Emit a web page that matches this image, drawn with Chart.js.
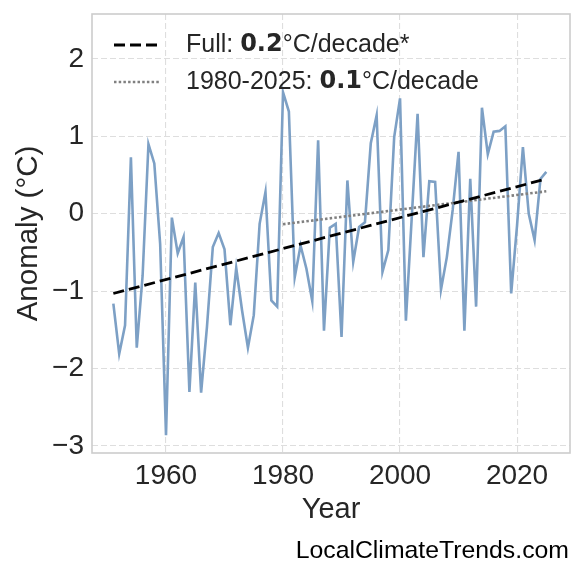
<!DOCTYPE html>
<html>
<head>
<meta charset="utf-8">
<script src="https://cdn.jsdelivr.net/npm/chart.js"></script>
<style>
    html, body { margin: 0; padding: 0; background: #fff; }
    #wrap { width: 585px; height: 580px; }
</style>
</head>
<body>
<div id="wrap"><canvas id="chart" width="585" height="580"></canvas></div>
<script>
// annual anomaly
const years = [
    1951, 1952, 1953, 1954, 1955, 1956, 1957, 1958, 1959, 1960,
    1961, 1962, 1963, 1964, 1965, 1966, 1967, 1968, 1969, 1970,
    1971, 1972, 1973, 1974, 1975, 1976, 1977, 1978, 1979, 1980,
    1981, 1982, 1983, 1984, 1985, 1986, 1987, 1988, 1989, 1990,
    1991, 1992, 1993, 1994, 1995, 1996, 1997, 1998, 1999, 2000,
    2001, 2002, 2003, 2004, 2005, 2006, 2007, 2008, 2009, 2010,
    2011, 2012, 2013, 2014, 2015, 2016, 2017, 2018, 2019, 2020,
    2021, 2022, 2023, 2024, 2025
];
const anomaly = [
    -1.16, -1.81, -1.44, 0.73, -1.73, -0.80, 0.90, 0.65, -0.39, -2.86,
    -0.05, -0.51, -0.30, -2.30, -0.89, -2.31, -1.46, -0.43, -0.25, -0.46,
    -1.44, -0.70, -1.25, -1.73, -1.31, -0.13, 0.28, -1.12, -1.20, 1.57,
    1.32, -0.82, -0.41, -0.71, -1.13, 0.95, -1.51, -0.18, -0.13, -1.59,
    0.43, -0.62, -0.17, -0.11, 0.91, 1.27, -0.75, -0.47, 0.99, 1.49,
    -1.38, -0.05, 1.29, -0.56, 0.42, 0.41, -0.98, -0.56, 0.05, 0.80,
    -1.51, 0.45, -1.20, 1.37, 0.77, 1.06, 1.07, 1.13, -1.03, -0.15,
    0.86, 0.00, -0.34, 0.45, 0.54
];

// trend line end points
const fullTrendYears = [1951, 2025];
const fullTrendValues = [-1.03, 0.45];
const recentTrendYears = [1980, 2025];
const recentTrendValues = [-0.135, 0.29];

const xTickValues = [1960, 1980, 2000, 2020];
const yTickValues = [-3, -2, -1, 0, 1, 2];

const legendRows = [
    [['Full: ', false], ['0.2', true], ['°C/decade*', false]],
    [['1980-2025: ', false], ['0.1', true], ['°C/decade', false]]
];
const watermark = 'LocalClimateTrends.com';

const FONT = "'Liberation Sans', Arial, sans-serif";
const TEXT = '#262626';

function toPoints(xs, ys) {
    return xs.map((x, i) => ({ x: x, y: ys[i] }));
}

const framePlugin = {
    id: 'frame',
    afterDraw(chart) {
        const { ctx, chartArea: a } = chart;
        ctx.save();
        ctx.setLineDash([]);
        ctx.strokeStyle = '#cccccc';
        ctx.lineWidth = 1.6;
        ctx.strokeRect(a.left, a.top, a.right - a.left, a.bottom - a.top);
        ctx.restore();
    }
};

const legendPlugin = {
    id: 'customLegend',
    afterDraw(chart) {
        const ctx = chart.ctx;
        const a = chart.chartArea;
        const styles = [
            { color: '#000000', dash: [11, 5], width: 2.8 },
            { color: '#808080', dash: [2.5, 2.2], width: 2.6 }
        ];
        ctx.save();
        legendRows.forEach((row, i) => {
            const y = a.top + 31 + i * 37;
            const st = styles[i];
            ctx.strokeStyle = st.color;
            ctx.lineWidth = st.width;
            ctx.setLineDash(st.dash);
            ctx.beginPath();
            ctx.moveTo(a.left + 22, y);
            ctx.lineTo(a.left + 68, y);
            ctx.stroke();
            ctx.setLineDash([]);

            let x = a.left + 94;
            ctx.textBaseline = 'middle';
            ctx.textAlign = 'left';
            ctx.fillStyle = TEXT;
            row.forEach(([t, bold]) => {
                ctx.font = bold ? "bold 24px 'DejaVu Sans', sans-serif" : '25px ' + FONT;
                ctx.fillText(t, x, y);
                x += ctx.measureText(t).width;
            });
        });

        ctx.font = '24.8px ' + FONT;
        ctx.fillStyle = '#000000';
        ctx.textAlign = 'right';
        ctx.textBaseline = 'middle';
        ctx.fillText(watermark, a.right - 1, 551);
        ctx.restore();
    }
};

const ctx = document.getElementById('chart');
new Chart(ctx, {
    type: 'line',
    data: {
        datasets: [
            {
                label: 'Anomaly',
                data: toPoints(years, anomaly),
                borderColor: '#7da0c5',
                borderWidth: 2.6,
                pointRadius: 0,
                tension: 0,
                order: 2
            },
            {
                label: 'Full',
                data: toPoints(fullTrendYears, fullTrendValues),
                borderColor: '#000000',
                borderWidth: 2.8,
                borderDash: [11, 5],
                pointRadius: 0,
                order: 0
            },
            {
                label: '1980-2025',
                data: toPoints(recentTrendYears, recentTrendValues),
                borderColor: '#808080',
                borderWidth: 2.6,
                borderDash: [2.5, 2.2],
                pointRadius: 0,
                order: 1
            }
        ]
    },
    options: {
        responsive: false,
        animation: false,
        devicePixelRatio: 1,
        layout: { padding: { left: 0, right: 15, top: 14, bottom: 47 } },
        plugins: {
            legend: { display: false },
            tooltip: { enabled: false }
        },
        scales: {
            x: {
                type: 'linear',
                min: 1947.35,
                max: 2029.05,
                afterFit(scale) {
                    scale.height = 80;
                    scale.paddingLeft = 0;
                    scale.paddingRight = 0;
                },
                afterBuildTicks(scale) { scale.ticks = xTickValues.map(v => ({ value: v })); },
                grid: { color: '#dedede', lineWidth: 1.1, drawTicks: false },
                border: { display: false, dash: [6, 3] },
                ticks: {
                    padding: 6,
                    color: TEXT,
                    font: { family: FONT, size: 28 },
                    callback: v => String(v)
                },
                title: {
                    display: true,
                    text: 'Year',
                    color: TEXT,
                    font: { family: FONT, size: 29 },
                    padding: { top: 0, bottom: 6 }
                }
            },
            y: {
                type: 'linear',
                min: -3.09,
                max: 2.58,
                afterFit(scale) {
                    scale.width = 92;
                    scale.paddingTop = 0;
                    scale.paddingBottom = 0;
                },
                afterBuildTicks(scale) { scale.ticks = yTickValues.map(v => ({ value: v })); },
                grid: { color: '#dedede', lineWidth: 1.1, drawTicks: false },
                border: { display: false, dash: [6, 3] },
                ticks: {
                    padding: 8,
                    color: TEXT,
                    font: { family: FONT, size: 28 },
                    callback: v => (v < 0 ? '\u2212' + Math.abs(v) : String(v))
                },
                title: {
                    display: true,
                    text: 'Anomaly (°C)',
                    color: TEXT,
                    font: { family: FONT, size: 29.5 },
                    padding: { top: 11, bottom: 0 }
                }
            }
        }
    },
    plugins: [framePlugin, legendPlugin]
});
</script>
</body>
</html>
